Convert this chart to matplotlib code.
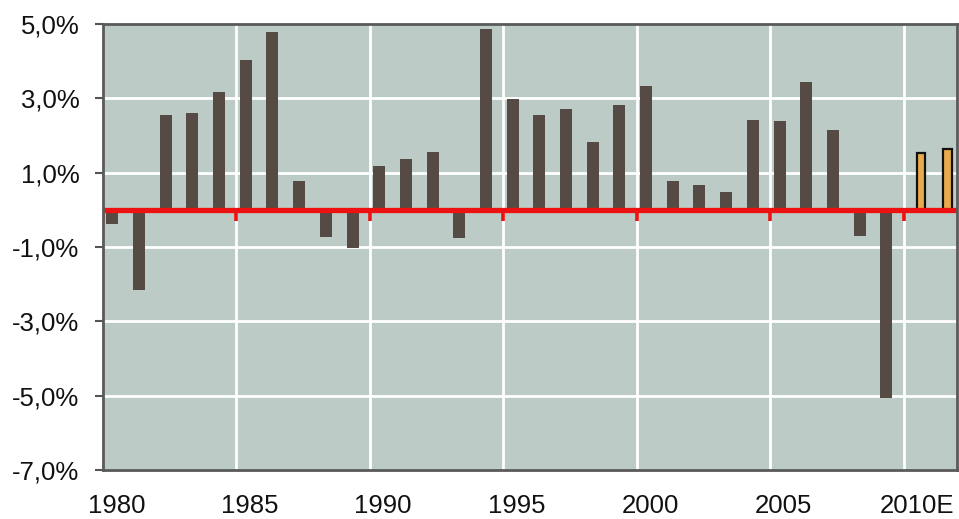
import matplotlib
matplotlib.use("Agg")
import matplotlib.pyplot as plt
import numpy as np

categories = [str(y) for y in range(1980, 2010)] + ["2010E", "2011E"]
actual = [-0.39, -2.17, 2.55, 2.61, 3.16, 4.04, 4.78, 0.77, -0.73, -1.04,
          1.17, 1.38, 1.55, -0.76, 4.87, 2.99, 2.55, 2.72, 1.83, 2.83,
          3.32, 0.77, 0.67, 0.49, 2.43, 2.38, 3.43, 2.16, -0.71, -5.07]
estimate = [1.52, 1.63]
yticks = [-7, -5, -3, -1, 1, 3, 5]
ytick_labels = ["-7,0%", "-5,0%", "-3,0%", "-1,0%", "1,0%", "3,0%", "5,0%"]

plt.rcParams['font.family'] = ['Liberation Sans', 'DejaVu Sans']

fig = plt.figure(figsize=(9.59, 5.19), dpi=100)
ax = fig.add_axes([103/959, 1-470/519, (957-103)/959, (470-24)/519])

bg = "#BCCBC6"
ax.set_facecolor(bg)
n = len(categories)
x = np.arange(n)
off = 0.15
w = 0.45

ax.bar(x[:len(actual)] - off, actual, width=w, color="#564B44", zorder=3)
ax.bar(x[len(actual):] + off, estimate, width=0.33, color="#E9AA4C",
       edgecolor="#111111", linewidth=1.6, zorder=3)

ax.set_xlim(-0.5, n - 0.5)
ax.set_ylim(-7, 5)

# gridlines
for yv in yticks[1:-1]:
    ax.axhline(yv, color="white", lw=2, zorder=1)
for k in range(5, n, 5):
    ax.axvline(k - 0.5, color="white", lw=2, zorder=1)

# red zero axis with ticks
ax.axhline(0, color="#EE1111", lw=3.8, zorder=4)
for k in range(0, n, 5):
    ax.plot([k - 0.5, k - 0.5], [0, -0.3], color="#EE1111", lw=2.6,
            zorder=4, solid_capstyle="butt")

ax.set_yticks(yticks)
ax.set_yticklabels(ytick_labels, fontsize=18.5, color="#111111")
ax.tick_params(axis="y", length=6, width=1.5, color="#555555", pad=11)

ax.set_xticks(x[::5])
ax.set_xticklabels(categories[::5], fontsize=18.5, color="#111111")
ax.tick_params(axis="x", length=0, pad=17)

for s in ax.spines.values():
    s.set_color("#5A5A5A")
    s.set_linewidth(2)
    s.set_zorder(5)

fig.savefig("out.png", dpi=100, facecolor="white")
